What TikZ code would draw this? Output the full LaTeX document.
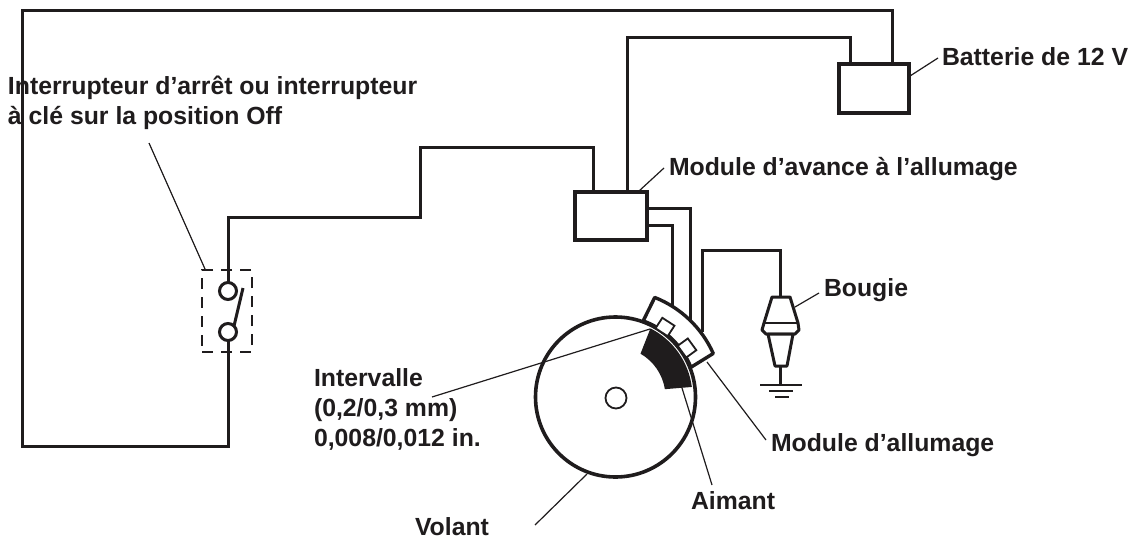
\documentclass[tikz,border=0pt]{standalone}
\usepackage{fontspec}
\setmainfont{Liberation Sans}
\definecolor{ink}{HTML}{1F1C1D}
\tikzset{
  wire/.style={ink,line width=3pt,line join=miter},
  thickbox/.style={draw=ink,fill=white,line width=4pt,inner sep=0pt,outer sep=0pt},
  leader/.style={ink,line width=1.2pt},
  lab/.style={text=ink,font=\bfseries\fontsize{24.8}{30}\selectfont,inner sep=0pt,outer sep=0pt,align=left},
  contact/.style={circle,draw=ink,fill=white,line width=3pt,minimum size=17pt,inner sep=0pt,outer sep=0pt},
  prong/.style={draw=ink,fill=white,line width=1.8pt,minimum width=14.5pt,minimum height=12.5pt,inner sep=0pt,outer sep=0pt},
  plug/.style={draw=ink,fill=white,line width=3pt,line join=round}
}
\begin{document}
\begin{tikzpicture}[x=1pt,y=1pt]
\useasboundingbox (0,-546) rectangle (1134,0);
\fill[white] (0,-546) rectangle (1134,0);
% flywheel
\coordinate (C) at (615.5,-397);
\node[circle,draw=ink,line width=3.6pt,minimum size=160pt,inner sep=0pt,outer sep=0pt] (fly) at (C) {};
\node[circle,draw=ink,line width=1.8pt,minimum size=21pt,inner sep=0pt,outer sep=0pt] (hub) at (616,-398) {};
% boxes
\node[thickbox,minimum width=72pt,minimum height=48pt] (adv) at (611,-216) {};
\node[thickbox,minimum width=70pt,minimum height=49pt] (bat) at (874,-88) {};
% anchor points of wires
\coordinate (a1) at (593,-192); \coordinate (a2) at (627,-192);
\coordinate (b1) at (850,-64); \coordinate (b2) at (892,-64);
\coordinate (r1) at (647,-208); \coordinate (r2) at (647,-225);
\coordinate (c1) at (690,-322); \coordinate (c2) at (672,-306); \coordinate (c3) at (702,-332);
% switch
\node[draw=ink,line width=1.8pt,dash pattern=on 11pt off 8pt,minimum width=50pt,minimum height=82pt,inner sep=0pt,outer sep=0pt] (sw) at (227,-311) {};
\node[contact] (k1) at (228,-291) {};
\node[contact] (k2) at (228,-332) {};
\draw[wire] (k1.north) -- (228,-217) -- (420,-217) -- (420,-147) -- (593,-147) -- (a1);
\draw[wire] (k2.south) -- (228,-446) -- (22,-446) -- (22,-10) -- (892,-10) -- (b2);
\draw[wire] (k2.north east) -- (243,-288);
% wires
\draw[wire] (b1) -- (850,-37) -- (627,-37) -- (a2);
\draw[wire] (r1) -- (690,-208) -- (c1);
\draw[wire] (r2) -- (672,-225) -- (c2);
% spark plug
\coordinate (p0) at (780,-297);
\draw[wire] (c3) -- (702,-250) -- (780,-250) -- (p0);
\draw[plug] (772,-297) -- (790,-297) -- (798,-323) -- (799,-330) -- (795,-334) -- (766,-334) -- (762,-330) -- (764,-323) -- cycle;
\draw[plug,line width=2pt] (764,-323) -- (798,-323);
\draw[plug] (768,-334) -- (793,-334) -- (787,-366) -- (775,-366) -- cycle;
\coordinate (g0) at (780,-366); \coordinate (g1) at (780,-385);
\draw[wire] (g0) -- (g1);
\draw[ink,line width=1.5pt] (760,-385) -- (802,-385);
\draw[ink,line width=1.5pt] (769,-391) -- (793,-391);
\draw[ink,line width=1.5pt] (775,-397) -- (789,-397);
% ignition module
\draw[draw=ink,fill=white,line width=3.4pt,line join=round]
  (C) ++(68.5:107) coordinate (m1)
  arc[start angle=68.5,end angle=24,radius=107] coordinate (m2)
  -- ([shift={(21.5:81)}]C) coordinate (m3)
  arc[start angle=21.5,end angle=70,radius=81] coordinate (m4) -- cycle;
% magnet
\fill[ink] (C) ++(63:77) coordinate (g2) arc[start angle=63,end angle=7.5,radius=77]
  -- ([shift={(9:50)}]C) arc[start angle=9,end angle=60,radius=50] -- cycle;
\node[prong,rotate=-33] (pr1) at (665,-327) {};
\node[prong,rotate=-54] (pr2) at (687,-348) {};
% labels
\node[lab,anchor=base west] (tbat) at (942,-65) {Batterie de 12 V};
\node[lab,anchor=base west] (tadv) at (669,-175) {Module d’avance à l’allumage};
\node[lab,anchor=base west] (tbou) at (824,-296) {Bougie};
\node[lab,anchor=base west] (tall) at (771,-451) {Module d’allumage};
\node[lab,anchor=base west] (taim) at (691,-509) {Aimant};
\node[lab,anchor=base west] (tvol) at (415,-535) {Volant};
\node[lab,anchor=north west] (tint) at (8,-76) {Interrupteur d’arrêt ou interrupteur\\à clé sur la position Off};
\node[lab,anchor=north west] (tgap) at (314,-369) {Intervalle\\(0,2/0,3 mm)\\0,008/0,012 in.};
% leaders
\coordinate (l1) at (910,-76); \coordinate (l1e) at (938,-58);
\coordinate (l2) at (639,-191); \coordinate (l2e) at (664,-168);
\coordinate (l3) at (795,-307); \coordinate (l3e) at (819,-293);
\coordinate (l4) at (707,-362); \coordinate (l4e) at (766,-440);
\coordinate (l5) at (682,-388); \coordinate (l5e) at (712,-485);
\coordinate (l6) at (587,-474); \coordinate (l6e) at (535,-525);
\coordinate (l7) at (650,-329); \coordinate (l7e) at (432,-397);
\coordinate (l8) at (205,-269); \coordinate (l8e) at (149,-143);
\draw[leader] (l1) -- (l1e);
\draw[leader] (l2) -- (l2e);
\draw[leader] (l3) -- (l3e);
\draw[leader] (l4) -- (l4e);
\draw[leader] (l5) -- (l5e);
\draw[leader] (l6) -- (l6e);
\draw[leader] (l7) -- (l7e);
\draw[leader] (l8) -- (l8e);
\end{tikzpicture}
\end{document}
